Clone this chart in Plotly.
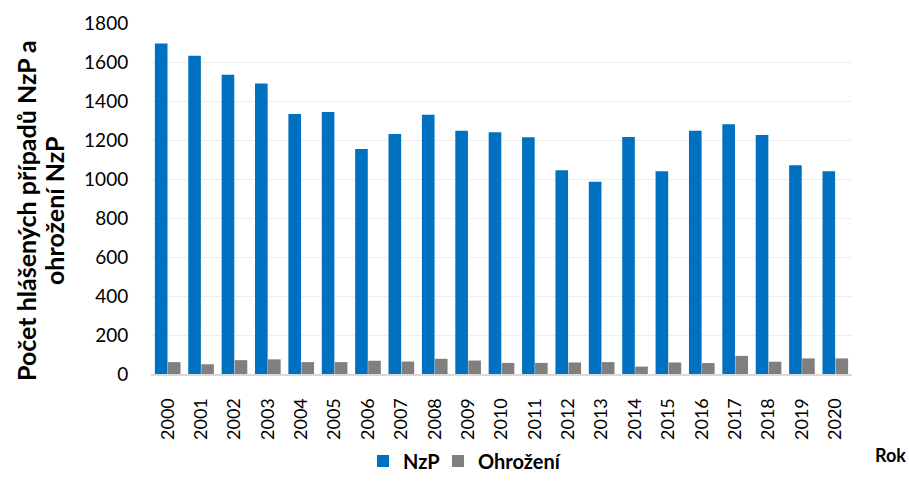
import plotly.graph_objects as go

years = [str(y) for y in range(2000, 2021)]
nzp = [1695, 1632, 1535, 1490, 1333, 1344, 1154, 1231, 1329, 1248, 1240,
       1214, 1045, 986, 1216, 1040, 1247, 1281, 1226, 1070, 1040]
ohrozeni = [61, 50, 71, 75, 61, 61, 68, 64, 78, 69, 57,
            57, 59, 61, 38, 59, 56, 93, 63, 80, 80]

FONT = "Lato"
W, H = 909, 481
L, R, T, B = 151, 57, 23, 107
pw, ph = W - L - R, H - T - B

def px(x):
    return (x - L) / pw

def py(y):
    return (H - B - y) / ph

fig = go.Figure()
fig.add_trace(go.Bar(x=years, y=nzp, name="NzP", marker_color="#0070C0",
                     marker_line_width=0, legend="legend"))
fig.add_trace(go.Bar(x=years, y=ohrozeni, name="Ohrožení", marker_color="#7F7F7F",
                     marker_line_width=0, legend="legend2"))

leg_common = dict(orientation="h", xanchor="left", yanchor="middle",
                  font=dict(family=FONT, size=20, weight="bold"),
                  itemwidth=30, bgcolor="rgba(0,0,0,0)")

fig.update_layout(
    width=W, height=H,
    margin=dict(l=L, r=R, t=T, b=B, autoexpand=False),
    paper_bgcolor="white", plot_bgcolor="white",
    barmode="group", bargap=0.22, bargroupgap=0.03,
    font=dict(family=FONT, size=19, color="#000000"),
    showlegend=True,
    legend=dict(x=px(363), y=py(461), **leg_common),
    legend2=dict(x=px(438), y=py(461), **leg_common),
    yaxis=dict(range=[0, 1800], dtick=200, showgrid=True, gridcolor="#EEEEEE",
               gridwidth=1, zeroline=False, showline=False,
               ticks="outside", ticklen=18, tickcolor="rgba(0,0,0,0)",
               tickfont=dict(family=FONT, size=19), automargin=False),
    xaxis=dict(type="category", showline=True, linecolor="#D9D9D9", linewidth=2,
               ticks="outside", ticklen=15, tickcolor="rgba(0,0,0,0)",
               tickangle=-90, tickfont=dict(family=FONT, size=18),
               automargin=False),
    annotations=[
        dict(text="Rok", x=px(891), y=py(455), xref="paper", yref="paper",
             showarrow=False, font=dict(family=FONT, size=18, weight="bold"),
             xanchor="center", yanchor="middle"),
        dict(text="Počet hlášených případů NzP a", x=px(26), y=py(211),
             xref="paper", yref="paper", textangle=-90, showarrow=False,
             font=dict(family=FONT, size=25, weight="bold"),
             xanchor="center", yanchor="middle"),
        dict(text="ohrožení NzP", x=px(54), y=py(211),
             xref="paper", yref="paper", textangle=-90, showarrow=False,
             font=dict(family=FONT, size=25, weight="bold"),
             xanchor="center", yanchor="middle"),
    ],
)

fig.write_html("out.html", post_script="document.body.style.margin='0';",
               config={"displayModeBar": False})
